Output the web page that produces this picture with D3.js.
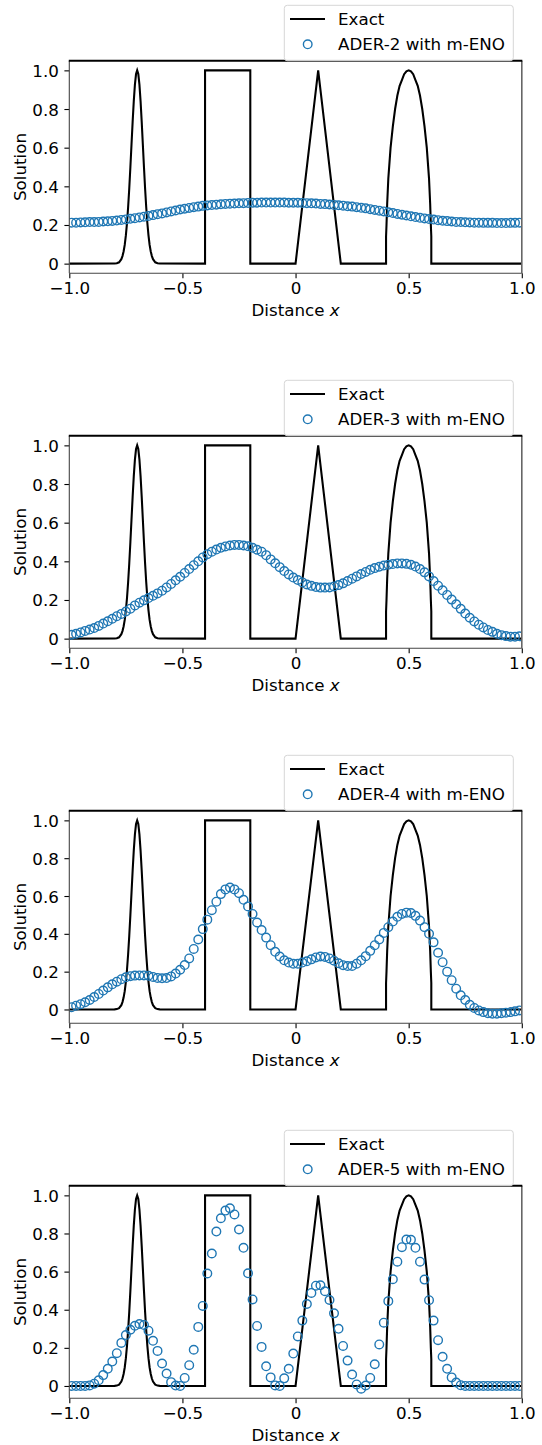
<!DOCTYPE html>
<html>
<head>
<meta charset="utf-8">
<script src="https://cdn.jsdelivr.net/npm/d3@7"></script>
<style>
  html, body { margin: 0; padding: 0; background: #fff; }
  svg { display: block; }
  text { font-family: "DejaVu Sans", sans-serif; }
</style>
</head>
<body>
<script>
// ---------------- DATA ----------------
const cellX = [-0.99,-0.97,-0.95,-0.93,-0.91,-0.89,-0.87,-0.85,-0.83,-0.81,
  -0.79,-0.77,-0.75,-0.73,-0.71,-0.69,-0.67,-0.65,-0.63,-0.61,
  -0.59,-0.57,-0.55,-0.53,-0.51,-0.49,-0.47,-0.45,-0.43,-0.41,
  -0.39,-0.37,-0.35,-0.33,-0.31,-0.29,-0.27,-0.25,-0.23,-0.21,
  -0.19,-0.17,-0.15,-0.13,-0.11,-0.09,-0.07,-0.05,-0.03,-0.01,
  0.01,0.03,0.05,0.07,0.09,0.11,0.13,0.15,0.17,0.19,
  0.21,0.23,0.25,0.27,0.29,0.31,0.33,0.35,0.37,0.39,
  0.41,0.43,0.45,0.47,0.49,0.51,0.53,0.55,0.57,0.59,
  0.61,0.63,0.65,0.67,0.69,0.71,0.73,0.75,0.77,0.79,
  0.81,0.83,0.85,0.87,0.89,0.91,0.93,0.95,0.97,0.99];

const exactX = [-1.0,-0.8,-0.79,-0.78,-0.77,-0.765,-0.76,-0.755,-0.75,-0.745,-0.74,-0.735,-0.73,-0.725,-0.72,-0.715,-0.71,-0.705,-0.7,
  -0.695,-0.69,-0.685,-0.68,-0.675,-0.67,-0.665,-0.66,-0.655,-0.65,-0.645,-0.64,-0.635,-0.63,-0.62,-0.61,-0.6,
  -0.4,-0.4,-0.2,-0.2,
  0.0,0.1,0.2,
  0.4,0.4,0.402,0.405,0.41,0.42,0.43,0.44,0.45,0.46,0.47,0.48,0.49,0.5,
  0.51,0.52,0.53,0.54,0.55,0.56,0.57,0.58,0.59,0.595,0.598,0.6,0.6,1.0];
const exactY = [0,0.0005,0.002,0.007,0.023,0.039,0.063,0.097,0.146,0.21,0.292,0.389,0.5,0.618,0.735,0.841,0.926,0.981,1.0,
  0.981,0.926,0.841,0.735,0.618,0.5,0.389,0.292,0.21,0.146,0.097,0.063,0.039,0.023,0.007,0.002,0.0005,
  0,1,1,0,
  0,1,0,
  0,0.14,0.2,0.31,0.44,0.6,0.71,0.8,0.87,0.92,0.95,0.98,0.995,1.0,
  0.995,0.98,0.95,0.92,0.87,0.8,0.71,0.6,0.44,0.31,0.2,0.14,0,0];

const ader2 = [0.212,0.212,0.213,0.214,0.215,0.215,0.216,0.218,0.219,0.221,
  0.223,0.226,0.229,0.232,0.235,0.239,0.243,0.247,0.251,0.256,
  0.260,0.265,0.270,0.275,0.280,0.284,0.288,0.292,0.295,0.299,
  0.301,0.303,0.305,0.307,0.309,0.310,0.311,0.312,0.313,0.314,
  0.315,0.315,0.316,0.316,0.316,0.316,0.316,0.316,0.315,0.315,
  0.315,0.314,0.313,0.312,0.311,0.309,0.308,0.306,0.304,0.302,
  0.300,0.297,0.295,0.292,0.289,0.286,0.282,0.278,0.274,0.270,
  0.266,0.262,0.257,0.253,0.249,0.245,0.241,0.237,0.234,0.231,
  0.228,0.225,0.222,0.220,0.218,0.216,0.215,0.214,0.213,0.212,
  0.212,0.211,0.211,0.211,0.210,0.210,0.210,0.211,0.211,0.212];

const ader3 = [0.020,0.025,0.032,0.040,0.047,0.055,0.066,0.078,0.090,0.103,
  0.116,0.128,0.140,0.155,0.172,0.186,0.198,0.210,0.222,0.234,
  0.248,0.265,0.283,0.302,0.320,0.340,0.360,0.380,0.400,0.420,
  0.437,0.450,0.461,0.470,0.477,0.482,0.485,0.485,0.482,0.478,
  0.470,0.460,0.450,0.432,0.410,0.390,0.370,0.350,0.332,0.316,
  0.303,0.291,0.280,0.273,0.267,0.264,0.264,0.265,0.270,0.277,
  0.286,0.298,0.310,0.322,0.334,0.345,0.356,0.365,0.372,0.378,
  0.382,0.386,0.389,0.389,0.387,0.382,0.373,0.360,0.343,0.322,
  0.298,0.274,0.250,0.226,0.202,0.178,0.154,0.130,0.108,0.089,
  0.072,0.058,0.045,0.035,0.025,0.018,0.013,0.010,0.010,0.012];

const ader4 = [0.012,0.020,0.028,0.038,0.050,0.066,0.082,0.100,0.117,0.133,
  0.147,0.160,0.170,0.176,0.179,0.180,0.180,0.178,0.172,0.167,
  0.165,0.166,0.175,0.190,0.210,0.235,0.270,0.320,0.370,0.425,
  0.475,0.525,0.570,0.610,0.635,0.645,0.635,0.615,0.580,0.545,
  0.505,0.460,0.420,0.380,0.340,0.305,0.280,0.260,0.248,0.242,
  0.242,0.248,0.255,0.265,0.275,0.280,0.278,0.270,0.258,0.244,
  0.234,0.230,0.230,0.242,0.260,0.282,0.310,0.340,0.370,0.405,
  0.435,0.465,0.490,0.505,0.512,0.510,0.495,0.470,0.435,0.400,
  0.355,0.300,0.250,0.200,0.155,0.110,0.075,0.050,0.025,0.008,
  -0.005,-0.014,-0.020,-0.022,-0.022,-0.020,-0.017,-0.014,-0.010,-0.005];

const ader5 = [0,0,0,0,0.003,0.012,0.030,0.057,0.090,0.128,
  0.172,0.226,0.267,0.295,0.316,0.325,0.320,0.290,0.237,0.184,
  0.118,0.065,0.020,0.002,0,0.042,0.109,0.190,0.310,0.420,
  0.590,0.695,0.810,0.880,0.920,0.932,0.900,0.821,0.725,0.591,
  0.454,0.315,0.205,0.103,0.045,0.003,0,0.040,0.090,0.170,
  0.260,0.343,0.430,0.488,0.526,0.528,0.497,0.451,0.381,0.300,
  0.210,0.133,0.060,0.008,-0.014,0.002,0.042,0.114,0.218,0.332,
  0.445,0.560,0.652,0.728,0.768,0.767,0.725,0.652,0.558,0.450,
  0.343,0.240,0.153,0.090,0.045,0.018,0.004,0,0,0,
  0,0,0,0,0,0,0,0,0,0];

const seriesNames = ["ADER-2 with m-ENO","ADER-3 with m-ENO","ADER-4 with m-ENO","ADER-5 with m-ENO"];
const seriesValues = [ader2, ader3, ader4, ader5];
const exactName = "Exact";
const xTicks = [-1, -0.5, 0, 0.5, 1];
const xTickLabels = ["\u22121.0", "\u22120.5", "0", "0.5", "1.0"];
const yTicks = [0, 0.2, 0.4, 0.6, 0.8, 1.0];
const yTickLabels = ["0", "0.2", "0.4", "0.6", "0.8", "1.0"];
const xLimits = [-1, 1];

// ---------------- LAYOUT ----------------
const W = 542, H = 1445;
const axLeft = 69.3, axRight = 521.8, axTop0 = 60.7, axH = 212.6, panelStep = 375;
const blue = "#1f77b4";
const fontSize = 16.7;

const svg = d3.select("body").append("svg").attr("width", W).attr("height", H);

seriesNames.forEach((name, k) => {
  const vals = seriesValues[k];
  const top = axTop0 + panelStep * k;
  const bottom = top + axH;
  const g = svg.append("g");

  const allY = exactY.concat(vals);
  const [mn, mx] = d3.extent(allY);
  const pad = 0.05 * (mx - mn);
  const x = d3.scaleLinear().domain(xLimits).range([axLeft, axRight]);
  const y = d3.scaleLinear().domain([mn - pad, mx + pad]).range([bottom, top]);

  const clipId = "clip" + k;
  g.append("clipPath").attr("id", clipId).append("rect")
    .attr("x", axLeft).attr("y", top).attr("width", axRight - axLeft).attr("height", axH);

  // exact line
  const line = d3.line().x((d, i) => x(exactX[i])).y((d, i) => y(exactY[i]));
  g.append("path").datum(exactY).attr("d", line)
    .attr("fill", "none").attr("stroke", "#000").attr("stroke-width", 2.08)
    .attr("stroke-linejoin", "miter").attr("clip-path", `url(#${clipId})`);

  // markers
  g.append("g").attr("clip-path", `url(#${clipId})`).selectAll("circle")
    .data(vals).join("circle")
    .attr("cx", (d, i) => x(cellX[i])).attr("cy", d => y(d)).attr("r", 4.3)
    .attr("fill", "none").attr("stroke", blue).attr("stroke-width", 1.4);

  // axes
  const xAxis = d3.axisBottom(x).tickValues(xTicks)
    .tickFormat((d, i) => xTickLabels[i]).tickSizeOuter(0).tickSize(4.9).tickPadding(4.2);
  const gx = g.append("g").attr("transform", `translate(0,${bottom})`).call(xAxis);
  const yAxis = d3.axisLeft(y).tickValues(yTicks)
    .tickFormat((d, i) => yTickLabels[i]).tickSizeOuter(0).tickSize(4.9).tickPadding(5.5);
  const gy = g.append("g").attr("transform", `translate(${axLeft},0)`).call(yAxis);
  [gx, gy].forEach(a => {
    a.select(".domain").remove();
    a.selectAll(".tick line").attr("stroke", "#000").attr("stroke-width", 1.1);
    a.selectAll(".tick text").attr("font-size", fontSize).attr("fill", "#000")
      .attr("font-family", "DejaVu Sans, sans-serif");
  });
  gy.selectAll(".tick text").attr("dy", "0.36em");

  // spines
  g.append("line").attr("x1", axLeft).attr("x2", axLeft).attr("y1", top).attr("y2", bottom)
    .attr("stroke", "#444").attr("stroke-width", 1.1);
  g.append("line").attr("x1", axLeft).attr("x2", axRight).attr("y1", bottom).attr("y2", bottom)
    .attr("stroke", "#444").attr("stroke-width", 1.1);
  g.append("line").attr("x1", axRight).attr("x2", axRight).attr("y1", top).attr("y2", bottom)
    .attr("stroke", "#666").attr("stroke-width", 1.6);
  g.append("line").attr("x1", axLeft - 0.5).attr("x2", axRight + 0.5).attr("y1", top).attr("y2", top)
    .attr("stroke", "#000").attr("stroke-width", 2);

  // axis labels
  const xl = g.append("text").attr("x", (axLeft + axRight) / 2).attr("y", bottom + 42.5)
    .attr("text-anchor", "middle").attr("font-size", fontSize).attr("fill", "#000");
  xl.append("tspan").text("Distance ");
  xl.append("tspan").attr("font-style", "italic").text("x");
  g.append("text").attr("transform", `translate(26,${(top + bottom) / 2}) rotate(-90)`)
    .attr("text-anchor", "middle").attr("font-size", fontSize).attr("fill", "#000").text("Solution");

  // legend
  const lg = g.append("g").attr("transform", `translate(0,${top - axTop0})`);
  lg.append("rect").attr("x", 284.3).attr("y", 5.3).attr("width", 229).attr("height", 55.4)
    .attr("rx", 3).attr("fill", "#fff").attr("fill-opacity", 0.85)
    .attr("stroke", "#d6d6d6").attr("stroke-width", 1);
  lg.append("line").attr("x1", 290).attr("x2", 325).attr("y1", 19).attr("y2", 19)
    .attr("stroke", "#000").attr("stroke-width", 2.08);
  lg.append("text").attr("x", 338).attr("y", 25).attr("font-size", fontSize).attr("fill", "#000").text(exactName);
  lg.append("circle").attr("cx", 307.7).attr("cy", 44.3).attr("r", 4.3)
    .attr("fill", "none").attr("stroke", blue).attr("stroke-width", 1.4);
  lg.append("text").attr("x", 338).attr("y", 50.3).attr("font-size", fontSize).attr("fill", "#000").text(name);
});
</script>
</body>
</html>
